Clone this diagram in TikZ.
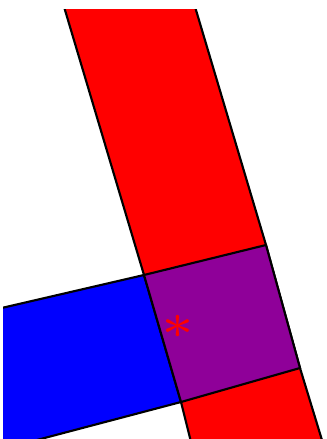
\documentclass[tikz,border=0pt]{standalone}
\begin{document}
\begin{tikzpicture}[x=0.75pt,y=-0.75pt,
  edge/.style={draw=black,line width=1.6pt,line join=miter},
  redfill/.style={edge,fill={rgb,255:red,255;green,0;blue,0}},
  bluefill/.style={edge,fill={rgb,255:red,0;green,0;blue,255}},
  purplefill/.style={edge,fill={rgb,255:red,143;green,0;blue,153}}]
\useasboundingbox (0,0) rectangle (327,439);
\begin{scope}
\clip (3,9) rectangle (340,450);
\coordinate (TL) at (144,275);
\coordinate (TR) at (266,245);
\coordinate (BR) at (300,368);
\coordinate (BL) at (181,402);
% red strip
\path[redfill] (62,0) -- (TL) -- (BL) -- (193,450) -- (325,450) -- (BR) -- (TR) -- (193,0) -- cycle;
% blue strip
\path[bluefill] (-20,313) -- (TL) -- (BL) -- (-20,455) -- cycle;
% purple overlap
\path[purplefill] (TL) -- (TR) -- (BR) -- (BL) -- cycle;
\end{scope}
\node[text={rgb,255:red,255;green,0;blue,0},inner sep=0pt,scale=7.5] (star) at (178,327) {$\scriptscriptstyle\ast$};
\end{tikzpicture}
\end{document}
